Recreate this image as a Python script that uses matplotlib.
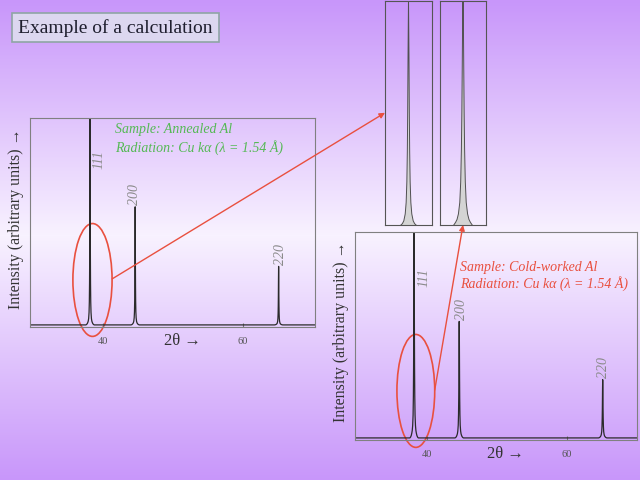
import numpy as np
import matplotlib
matplotlib.use("Agg")
from matplotlib import pyplot as plt
from matplotlib.patches import Ellipse, Rectangle, ConnectionPatch
from matplotlib.colors import LinearSegmentedColormap

plt.rcParams['font.family'] = ['Liberation Serif', 'DejaVu Serif']

# Al diffraction peaks
hkl = ['111', '200', '220']
peak_2theta = [38.15, 44.6, 65.1]
annealed_int = [1.0, 0.565, 0.28]
cold_int = [1.0, 0.56, 0.28]
baseline = 0.01

# half peak profile: offset from peak centre (deg) and relative intensity
profile_offset = [0.0, 0.02, 0.035, 0.05, 0.07, 0.1, 0.14, 0.2, 0.26, 0.32, 0.4, 0.5, 0.6]
annealed_shape = [1.0, 0.75, 0.5, 0.33, 0.2, 0.11, 0.06, 0.03, 0.018, 0.012, 0.006, 0.002, 0.0]
cold_shape = [1.0, 0.86, 0.67, 0.5, 0.34, 0.2, 0.11, 0.06, 0.036, 0.024, 0.012, 0.004, 0.0]

red = '#e9503f'
green = '#55b955'


def pattern(heights, shape, lo=29.0, hi=71.0):
    xs, ys = [lo], [baseline]
    for pos, h in zip(peak_2theta, heights):
        for off, r in zip(profile_offset[::-1], shape[::-1]):
            xs.append(pos - off)
            ys.append(baseline + h * r)
        for off, r in zip(profile_offset[1:], shape[1:]):
            xs.append(pos + off)
            ys.append(baseline + h * r)
    xs.append(hi)
    ys.append(baseline)
    return np.array(xs), np.array(ys)


def rect(x0, y0, x1, y1):
    return [x0 / 640, 1 - y1 / 480, (x1 - x0) / 640, (y1 - y0) / 480]


fig = plt.figure(figsize=(6.4, 4.8), dpi=100)

# slide background gradient
bg = fig.add_axes([0, 0, 1, 1], zorder=-10)
bg.axis('off')
rows = np.arange(480)
t = np.where(rows < 235, (235 - rows) / 235, (rows - 235) / 245)
cmap = LinearSegmentedColormap.from_list('slide', ['#f8f2ff', '#c896fa'])
bg.imshow(t[:, None], cmap=cmap, aspect='auto', extent=[0, 1, 0, 1], vmin=0, vmax=1)

# title box
fig.patches.append(Rectangle((12 / 640, 1 - 42 / 480), 207 / 640, 29 / 480,
                             transform=fig.transFigure, facecolor='#dcd7f0',
                             edgecolor='#8fa5a5', lw=1.2))
fig.text(18 / 640, 1 - 28 / 480, 'Example of a calculation', fontsize=14,
         color='#1e1e2e', va='center', ha='left')


def xrd_axes(r, xlim, heights, shape, label_offsets):
    ax = fig.add_axes(r)
    ax.set_facecolor('none')
    x, y = pattern(heights, shape)
    ax.plot(x, y, color='#2a2a2a', lw=0.9)
    ax.set_xlim(*xlim)
    ax.set_ylim(0, 1.0)
    ax.set_yticks([])
    ax.set_xticks([40, 60])
    ax.tick_params(axis='x', direction='in', length=3, pad=7, labelsize=7.5,
                   labelcolor='#555555', color='#777777')
    for s in ax.spines.values():
        s.set_color('#808080')
        s.set_linewidth(0.8)
    for lab, pos, h, off in zip(hkl, peak_2theta, heights, label_offsets):
        ax.annotate(lab, (pos, baseline + h), xytext=off, textcoords='offset pixels',
                    rotation=90, ha='center', va='center', fontsize=10,
                    style='italic', color='#8a8a8a', annotation_clip=False)
    ax.set_ylabel('Intensity (arbitrary units) \u2192', fontsize=11.5, color='#333333')
    ax.text(0.535, -0.067, '2\u03b8 \u2192', transform=ax.transAxes, fontsize=12,
            color='#333333', ha='center', va='center')
    return ax


ax1 = xrd_axes(rect(30, 118, 315, 327), (29.57, 70.3), annealed_int, annealed_shape,
               [(9, -44), (-1, 12), (2, 12)])
ax1.yaxis.set_label_coords(-0.022, 0.52)
ax1.text(0.298, 0.943, 'Sample: Annealed Al', transform=ax1.transAxes, color=green,
         style='italic', fontsize=10, va='center')
ax1.text(0.298, 0.861, 'Radiation: Cu k\u03b1 (\u03bb = 1.54 \u00c5)', transform=ax1.transAxes,
         color=green, style='italic', fontsize=10, va='center')

ax2 = xrd_axes(rect(355, 232, 637, 440), (29.71, 70.0), cold_int, cold_shape,
               [(10, -48), (2, 12), (1, 12)])
ax2.yaxis.set_label_coords(-0.02, 0.52)
ax2.text(0.372, 0.827, 'Sample: Cold-worked Al', transform=ax2.transAxes, color=red,
         style='italic', fontsize=10, va='center')
ax2.text(0.372, 0.75, 'Radiation: Cu k\u03b1 (\u03bb = 1.54 \u00c5)', transform=ax2.transAxes,
         color=red, style='italic', fontsize=10, va='center')

# zoomed 111 peaks
insets = []
for r, shape, h in [(rect(385, 0.5, 432, 225), annealed_shape, annealed_int[0]),
                    (rect(440, 0.5, 486, 225), cold_shape, cold_int[0])]:
    ins = fig.add_axes(r)
    ins.set_facecolor('none')
    x, y = pattern([h, 0, 0], shape, lo=36.0, hi=40.0)
    ins.fill_between(x, 0, y, color='#d4d4d4', lw=0)
    ins.plot(x, y, color='#505050', lw=0.7)
    ins.set_xlim(peak_2theta[0] - 1.0, peak_2theta[0] + 1.0)
    ins.set_ylim(baseline + 0.012, 1.0)
    ins.set_xticks([])
    ins.set_yticks([])
    for s in ins.spines.values():
        s.set_color('#555555')
        s.set_linewidth(0.8)
    insets.append(ins)

# circles round the 111 peaks and arrows to the zoomed views
ax1.add_patch(Ellipse((38.5, 0.225), 5.6, 0.54, fill=False, edgecolor=red, lw=1.2,
                      clip_on=False))
ax2.add_patch(Ellipse((38.4, 0.236), 5.4, 0.543, fill=False, edgecolor=red, lw=1.2,
                      clip_on=False))
fig.add_artist(ConnectionPatch(xyA=(41.3, 0.23), coordsA=ax1.transData,
                               xyB=(0, 0.5), coordsB=insets[0].transAxes,
                               arrowstyle='-|>', color=red, lw=1, mutation_scale=8))
fig.add_artist(ConnectionPatch(xyA=(41.1, 0.24), coordsA=ax2.transData,
                               xyB=(0.5, 0), coordsB=insets[1].transAxes,
                               arrowstyle='-|>', color=red, lw=1, mutation_scale=8))

plt.savefig('out.png', dpi=100)
